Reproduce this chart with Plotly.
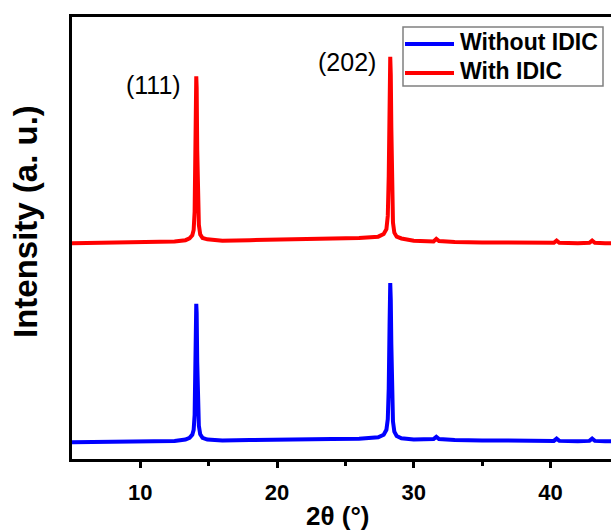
import plotly.graph_objects as go

# ---- data ----
two_theta = [5, 7, 9, 11, 12.5, 13.3, 13.6, 13.8, 13.9, 13.97, 14.02, 14.06, 14.09, 14.12,
             14.16, 14.21, 14.28, 14.38, 14.55, 14.9, 16, 18, 20, 22, 24, 26, 27.4, 27.8,
             28.0, 28.1, 28.17, 28.23, 28.28, 28.32, 28.36, 28.41, 28.48, 28.58, 28.75,
             29.1, 30, 31.45, 31.65, 31.85, 33, 35, 37, 39, 40.25, 40.45, 40.65,
             42, 42.85, 43.05, 43.25, 44, 45]

without_idic = [38, 39, 39, 40, 41, 44, 48, 55, 66, 100, 200, 320, 351, 330,
                220, 120, 75, 56, 48, 44, 42, 43, 43, 44, 45, 46, 49, 55,
                66, 90, 160, 300, 398, 360, 260, 140, 85, 62, 52,
                47, 44, 45, 50, 45, 43, 42, 41, 41, 41, 46, 41,
                40, 41, 46, 41, 40, 40]

with_idic = [488, 489, 490, 491, 492, 495, 499, 506, 518, 560, 700, 830, 866, 840,
             700, 580, 530, 508, 500, 497, 494, 495, 496, 497, 498, 500, 503, 509,
             520, 550, 640, 810, 910, 870, 750, 590, 535, 512, 503,
             499, 494, 492, 498, 493, 491, 490, 489, 489, 489, 494, 489,
             488, 489, 494, 489, 488, 488]

series_names = ["Without IDIC", "With IDIC"]
series_colors = ["#0000FF", "#FF0000"]
peak_labels = ["(111)", "(202)"]
peak_label_x = [13.1, 27.35]
peak_label_y = [846, 898]

# ---- layout geometry (pixels) ----
W, H = 611, 532
L, T, B = 72, 17, 459          # plot area left, top, bottom
R = W                          # plot extends to right edge (cut off)


def px(x):
    return (x - L) / (R - L)


def py(y):
    return (B - y) / (B - T)


fig = go.Figure()
for name, ys, col in zip(series_names, [without_idic, with_idic], series_colors):
    fig.add_trace(go.Scatter(x=two_theta, y=ys, mode="lines", name=name,
                             line=dict(color=col, width=4), showlegend=False))

FONT = "Liberation Sans, Arial, sans-serif"

annotations = []
for lab, lx, ly in zip(peak_labels, peak_label_x, peak_label_y):
    annotations.append(dict(x=lx, y=ly, xref="x", yref="y", text=lab, showarrow=False,
                            xanchor="right", yanchor="middle",
                            font=dict(family=FONT, size=25, color="#000")))

# axis titles
annotations.append(dict(x=px(337), y=py(516), xref="paper", yref="paper",
                        text="<b>2θ (°)</b>", showarrow=False, xanchor="center",
                        yanchor="middle", font=dict(family=FONT, size=26, color="#000")))
annotations.append(dict(x=px(25), y=py(222), xref="paper", yref="paper",
                        text="<b>Intensity (a. u.)</b>", showarrow=False, textangle=-90,
                        xanchor="center", yanchor="middle",
                        font=dict(family=FONT, size=33, color="#000")))

# legend (drawn manually to match long line samples)
shapes = [dict(type="rect", xref="paper", yref="paper", x0=px(403), x1=px(603),
               y0=py(86), y1=py(27), line=dict(color="#808080", width=1.5),
               fillcolor="white", layer="above")]
for i, (name, col) in enumerate(zip(series_names, series_colors)):
    yy = [44, 73][i]
    shapes.append(dict(type="line", xref="paper", yref="paper", x0=px(405), x1=px(454),
                       y0=py(yy), y1=py(yy), line=dict(color=col, width=4), layer="above"))
    annotations.append(dict(x=px(458), y=py(yy - 2), xref="paper", yref="paper",
                            text="<b>" + name + "</b>", showarrow=False, xanchor="left",
                            yanchor="middle", font=dict(family=FONT, size=23, color="#000")))

fig.update_layout(
    width=W, height=H,
    margin=dict(l=L, r=W - R, t=T, b=H - B),
    paper_bgcolor="white", plot_bgcolor="white",
    showlegend=False,
    shapes=shapes, annotations=annotations,
    font=dict(family=FONT, color="#000"),
)
fig.update_xaxes(range=[5, 5 + (R - L) / 13.67], showgrid=False, zeroline=False,
                 showline=True, linecolor="#000", linewidth=2.5, mirror=True,
                 ticks="outside", ticklen=6, tickwidth=2.5, tickcolor="#000",
                 tickvals=[10, 20, 30, 40], ticktext=["10", "20", "30", "40"],
                 tickfont=dict(family=FONT, size=22, color="#000", weight="bold"),
                 ticklabelstandoff=6,
                 minor=dict(tickvals=[15, 25, 35], ticks="outside", ticklen=4,
                            tickwidth=2.5, tickcolor="#000"))
fig.update_yaxes(range=[0, 1000], showgrid=False, zeroline=False, showline=True,
                 linecolor="#000", linewidth=2.5, mirror=False, showticklabels=False,
                 ticks="")

fig.write_html("out.html", config={"displayModeBar": False},
               post_script="document.body.style.margin='0';document.body.style.overflow='hidden';")
